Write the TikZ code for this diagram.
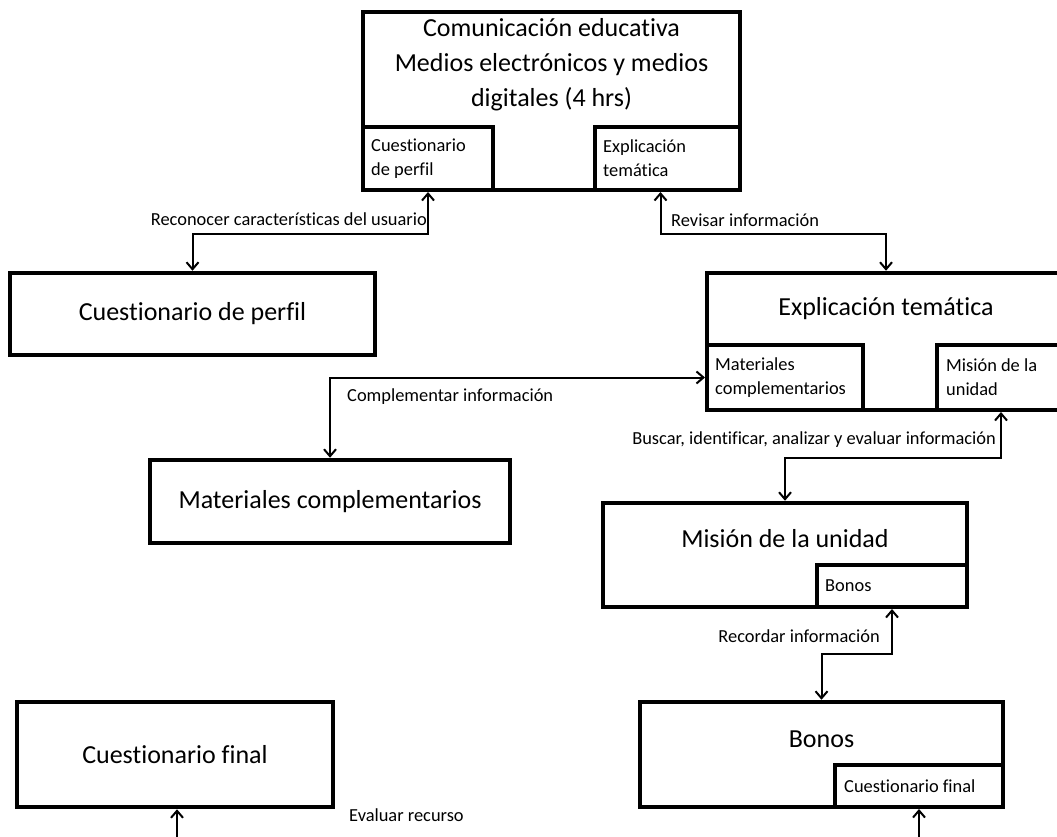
\documentclass[tikz,border=0pt]{standalone}
\usepackage{fontspec}
\setmainfont{Carlito}[Ligatures=NoCommon]
\usetikzlibrary{arrows.meta,positioning}

\tikzset{
  bigbox/.style={draw, line width=4.5pt, inner sep=0pt, fill=white},
  subbox/.style={draw, line width=4pt, inner sep=0pt, fill=white},
  bigtext/.style={font=\fontsize{26}{35}\selectfont, align=center},
  smalltext/.style={font=\fontsize{18.4}{24}\selectfont, inner sep=0pt, align=left},
  tip/.tip={Straight Barb[length=7pt,width=12pt,line width=2pt]},
  conn/.style={line width=2pt, tip-tip},
  oneway/.style={line width=2pt, -tip},
}

\begin{document}
\begin{tikzpicture}[x=1pt,y=-1pt]
  \fill[white] (0,0) rectangle (1057,837);
  \useasboundingbox (0,0) rectangle (1057,837);

  % course header
  \node[bigbox, minimum width=377pt, minimum height=178pt] (top) at (551.5,101) {};
  \node[bigtext] (topT) at (551.5,65) {Comunicación educativa\\Medios electrónicos y medios\\digitales (4 hrs)};
  \node[subbox, minimum width=130pt, minimum height=63pt] (topL) at (428,158.5) {};
  \node[smalltext, anchor=west] (topLt) at ([xshift=10pt]topL.west) {Cuestionario\\de perfil};
  \node[subbox, minimum width=145pt, minimum height=63pt] (topR) at (667.5,158.5) {};
  \node[smalltext, anchor=west] (topRt) at ([xshift=10pt]topR.west) {Explicación\\temática};

  % profile questionnaire
  \node[bigbox, bigtext, minimum width=365pt, minimum height=82pt] (perfil) at (192.5,314) {Cuestionario de perfil};

  % thematic explanation
  \node[bigbox, minimum width=358pt, minimum height=137pt] (expl) at (886,341.5) {};
  \node[bigtext] (explT) at (886,309) {Explicación temática};
  \node[subbox, minimum width=156pt, minimum height=65pt] (explL) at (785,377.5) {};
  \node[smalltext, anchor=west] (explLt) at ([xshift=10pt]explL.west) {Materiales\\complementarios};
  \node[subbox, minimum width=128pt, minimum height=65pt] (explR) at (1001,377.5) {};
  \node[smalltext, anchor=west] (explRt) at ([xshift=11pt]explR.west) {Misión de la\\unidad};

  % complementary materials
  \node[bigbox, bigtext, minimum width=360pt, minimum height=83pt] (matc) at (330,501.5) {Materiales complementarios};

  % unit mission
  \node[bigbox, minimum width=364pt, minimum height=104pt] (mision) at (785,555) {};
  \node[bigtext] (misionT) at (785,539) {Misión de la unidad};
  \node[subbox, minimum width=150pt, minimum height=42pt] (misB) at (892,586) {};
  \node[smalltext, anchor=west] (misBt) at ([xshift=10pt]misB.west) {Bonos};

  % bonuses
  \node[bigbox, minimum width=363pt, minimum height=105pt] (bonos) at (821.5,754.5) {};
  \node[bigtext] (bonosT) at (821.5,739) {Bonos};
  \node[subbox, minimum width=168pt, minimum height=42pt] (bonC) at (919,786) {};
  \node[smalltext, anchor=west] (bonCt) at ([xshift=11pt]bonC.west) {Cuestionario final};

  % final questionnaire
  \node[bigbox, bigtext, minimum width=316pt, minimum height=105pt] (cfin) at (175,754.5) {Cuestionario final};

  % connectors
  \draw[conn] (topL.south) -- ++(0,42) -| (perfil.north);
  \node[smalltext, anchor=east] (lab1) at (427,219) {Reconocer características del usuario};

  \draw[conn] ([xshift=-7pt]topR.south) -- ++(0,42) -| (expl.north);
  \node[smalltext, anchor=west] (lab2) at (671,220) {Revisar información};

  \draw[conn] (explL.west) -| (matc.north);
  \node[smalltext, anchor=west] (lab3) at (347,397) {Complementar información};

  \draw[conn] (explR.south) -- ++(0,46) -| (mision.north);
  \node[smalltext, anchor=east] (lab4) at (996,440) {Buscar, identificar, analizar y evaluar información};

  \draw[conn] (misB.south) -- ++(0,45) -| (bonos.north);
  \node[smalltext, anchor=east] (lab5) at (880,636) {Recordar información};

  \coordinate (evalR) at (919,845);
  \coordinate (evalL) at (177,845);
  \draw[oneway] (evalR) -- (bonC.south);
  \draw[oneway] (evalL) -- (evalL |- cfin.south);
  \node[smalltext, anchor=west] (lab6) at (349,815) {Evaluar recurso};
\end{tikzpicture}
\end{document}
